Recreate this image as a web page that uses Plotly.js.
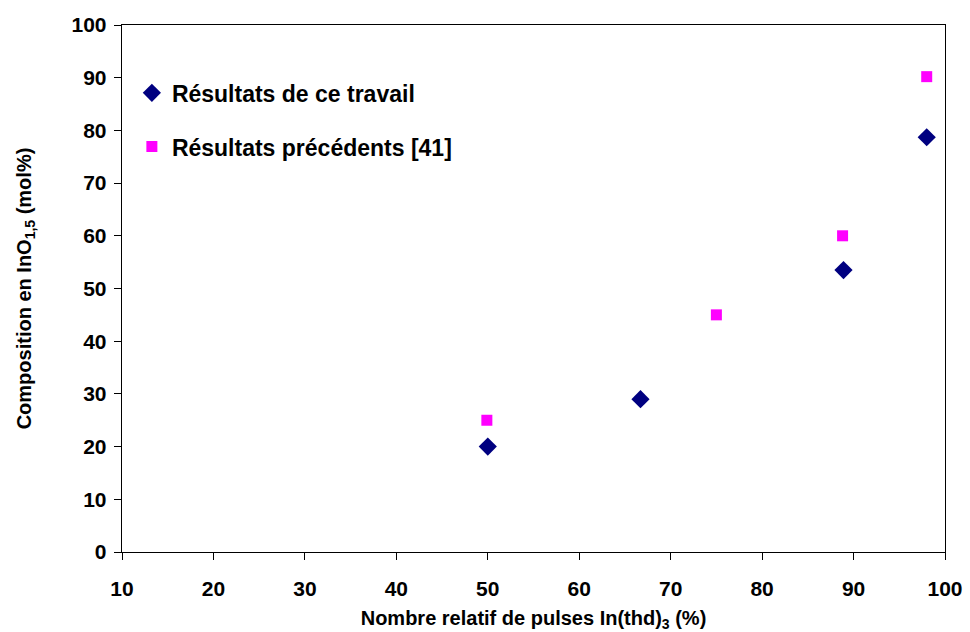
<!DOCTYPE html>
<html>
<head>
<meta charset="utf-8">
<script src="https://cdn.plot.ly/plotly-3.0.1.min.js"></script>
<style>html,body{margin:0;padding:0;background:#fff;}#chart{width:970px;height:632px;}</style>
</head>
<body>
<div id="chart"></div>
<script>
const seriesNames = ["Résultats de ce travail", "Résultats précédents [41]"];
const xThis = [50, 66.7, 88.9, 98];
const yThis = [20, 29, 53.5, 78.7];
const xPrev = [49.9, 75, 88.8, 98];
const yPrev = [25, 45, 60, 90.2];
const xTicks = [10, 20, 30, 40, 50, 60, 70, 80, 90, 100];
const yTicks = [0, 10, 20, 30, 40, 50, 60, 70, 80, 90, 100];

const font = "Liberation Sans, Arial, sans-serif";

const traces = [
  {
    x: xThis, y: yThis, type: "scatter", mode: "markers", name: seriesNames[0],
    marker: {symbol: "diamond", size: 14, color: "#000080"},
    legend: "legend"
  },
  {
    x: xPrev, y: yPrev, type: "scatter", mode: "markers", name: seriesNames[1],
    marker: {symbol: "square", size: 11, color: "#FF00FF"},
    legend: "legend2"
  }
];

const axisCommon = {
  showgrid: false, zeroline: false, showline: true, mirror: true,
  linecolor: "#000", linewidth: 1.3,
  ticks: "outside", ticklen: 7, tickcolor: "#000", tickwidth: 1,
  tickfont: {family: font, size: 21, color: "#000", weight: "bold"}
};

const legendFont = {family: font, size: 23, color: "#000", weight: "bold"};

const layout = {
  width: 970, height: 632,
  paper_bgcolor: "#fff", plot_bgcolor: "#fff",
  margin: {l: 122, r: 25, t: 25, b: 80},
  showlegend: true,
  xaxis: Object.assign({}, axisCommon, {
    range: [10, 100], tickvals: xTicks, ticktext: xTicks.map(String),
    ticklabelstandoff: 10,
    title: {text: "<b>Nombre relatif de pulses In(thd)<sub>3</sub> (%)</b>",
      font: {family: font, size: 20, color: "#000"}, standoff: 13}
  }),
  yaxis: Object.assign({}, axisCommon, {
    range: [0, 100], tickvals: yTicks, ticktext: yTicks.map(String),
    ticklabelstandoff: 3,
    title: {text: "<b>Composition en InO<sub>1,5</sub> (mol%)</b>",
      font: {family: font, size: 20, color: "#000"}, standoff: 34}
  }),
  legend: {
    x: 0.012, y: 0.912, xanchor: "left", yanchor: "top",
    bgcolor: "rgba(0,0,0,0)", borderwidth: 0, itemwidth: 30,
    font: legendFont
  },
  legend2: {
    x: 0.012, y: 0.810, xanchor: "left", yanchor: "top",
    bgcolor: "rgba(0,0,0,0)", borderwidth: 0, itemwidth: 30,
    font: legendFont
  }
};

Plotly.newPlot("chart", traces, layout, {displayModeBar: false, staticPlot: true});
</script>
</body>
</html>
